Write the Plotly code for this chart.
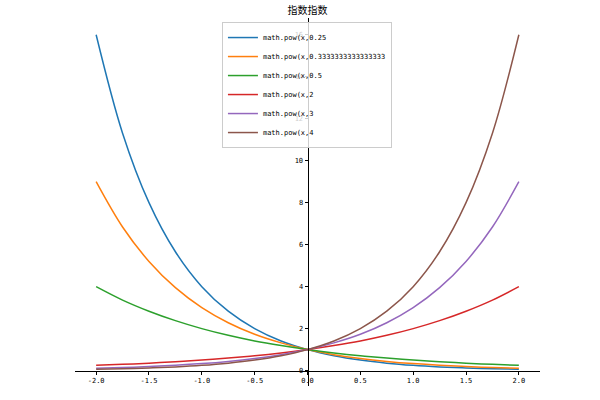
import plotly.graph_objects as go

# x sample positions
x_vals = [-2.0, -1.75, -1.5, -1.25, -1.0, -0.75, -0.5, -0.25, 0.0,
          0.25, 0.5, 0.75, 1.0, 1.25, 1.5, 1.75, 2.0]

# series values
y_025 = [16.0, 11.31, 8.0, 5.66, 4.0, 2.83, 2.0, 1.41, 1.0,
         0.707, 0.5, 0.354, 0.25, 0.177, 0.125, 0.088, 0.0625]
y_033 = [9.0, 6.84, 5.20, 3.95, 3.0, 2.28, 1.73, 1.32, 1.0,
         0.760, 0.577, 0.439, 0.333, 0.253, 0.192, 0.146, 0.111]
y_05 = [4.0, 3.36, 2.83, 2.38, 2.0, 1.68, 1.41, 1.19, 1.0,
        0.841, 0.707, 0.595, 0.5, 0.420, 0.354, 0.297, 0.25]
y_2 = [0.25, 0.297, 0.354, 0.420, 0.5, 0.595, 0.707, 0.841, 1.0,
       1.19, 1.41, 1.68, 2.0, 2.38, 2.83, 3.36, 4.0]
y_3 = [0.111, 0.146, 0.192, 0.253, 0.333, 0.439, 0.577, 0.760, 1.0,
       1.32, 1.73, 2.28, 3.0, 3.95, 5.20, 6.84, 9.0]
y_4 = [0.0625, 0.088, 0.125, 0.177, 0.25, 0.354, 0.5, 0.707, 1.0,
       1.41, 2.0, 2.83, 4.0, 5.66, 8.0, 11.31, 16.0]

series_names = ["math.pow(x,0.25", "math.pow(x,0.3333333333333333", "math.pow(x,0.5",
                "math.pow(x,2", "math.pow(x,3", "math.pow(x,4"]
series_values = [y_025, y_033, y_05, y_2, y_3, y_4]
colors = ["#1f77b4", "#ff7f0e", "#2ca02c", "#d62728", "#9467bd", "#8c564b"]

x_tickvals = [-2.0, -1.5, -1.0, -0.5, 0.0, 0.5, 1.0, 1.5, 2.0]
x_ticktext = ["-2.0", "-1.5", "-1.0", "-0.5", "0.0", "0.5", "1.0", "1.5", "2.0"]
y_tickvals = [0, 2, 4, 6, 8, 10, 12, 14, 16]
y_ticktext = ["0", "2", "4", "6", "8", "10", "12", "14", "16"]

title_text = "指数指数"

fig = go.Figure()
for name, vals, c in zip(series_names, series_values, colors):
    fig.add_trace(go.Scatter(x=x_vals, y=vals, mode="lines", name=name,
                             line=dict(color=c, width=1.5, shape="spline")))

x_range = [-2.2, 2.2]
y_range = [-0.734, 16.797]
x_axis_pos = (0 - y_range[0]) / (y_range[1] - y_range[0])
y_axis_pos = (0 - x_range[0]) / (x_range[1] - x_range[0])

tick_font = dict(family="DejaVu Sans Mono", size=7, color="#000")

fig.update_layout(
    width=600, height=400,
    margin=dict(l=75, r=60, t=18, b=14),
    paper_bgcolor="white", plot_bgcolor="white",
    title=dict(text=title_text, x=0.5, xref="paper", y=1 - 10 / 400, yref="container",
               yanchor="middle", xanchor="center",
               font=dict(family="Noto Sans CJK SC", size=10, color="#000")),
    xaxis=dict(range=x_range, anchor="free", position=x_axis_pos,
               showline=True, linecolor="#000", linewidth=1,
               ticks="outside", ticklen=3, tickcolor="#000",
               tickvals=x_tickvals, ticktext=x_ticktext,
               showgrid=False, zeroline=False, tickfont=tick_font),
    yaxis=dict(range=y_range, anchor="free", position=y_axis_pos,
               showline=True, linecolor="#000", linewidth=1,
               ticks="outside", ticklen=3, tickcolor="#000",
               tickvals=y_tickvals, ticktext=y_ticktext,
               showgrid=False, zeroline=False, tickfont=tick_font),
    legend=dict(x=0.316, y=0.989, xanchor="left", yanchor="top",
                bgcolor="rgba(255,255,255,0.8)", bordercolor="#cccccc", borderwidth=1,
                font=dict(family="DejaVu Sans Mono", size=7, color="#000"),
                itemwidth=30),
    showlegend=True,
)

fig.write_html("out.html")
